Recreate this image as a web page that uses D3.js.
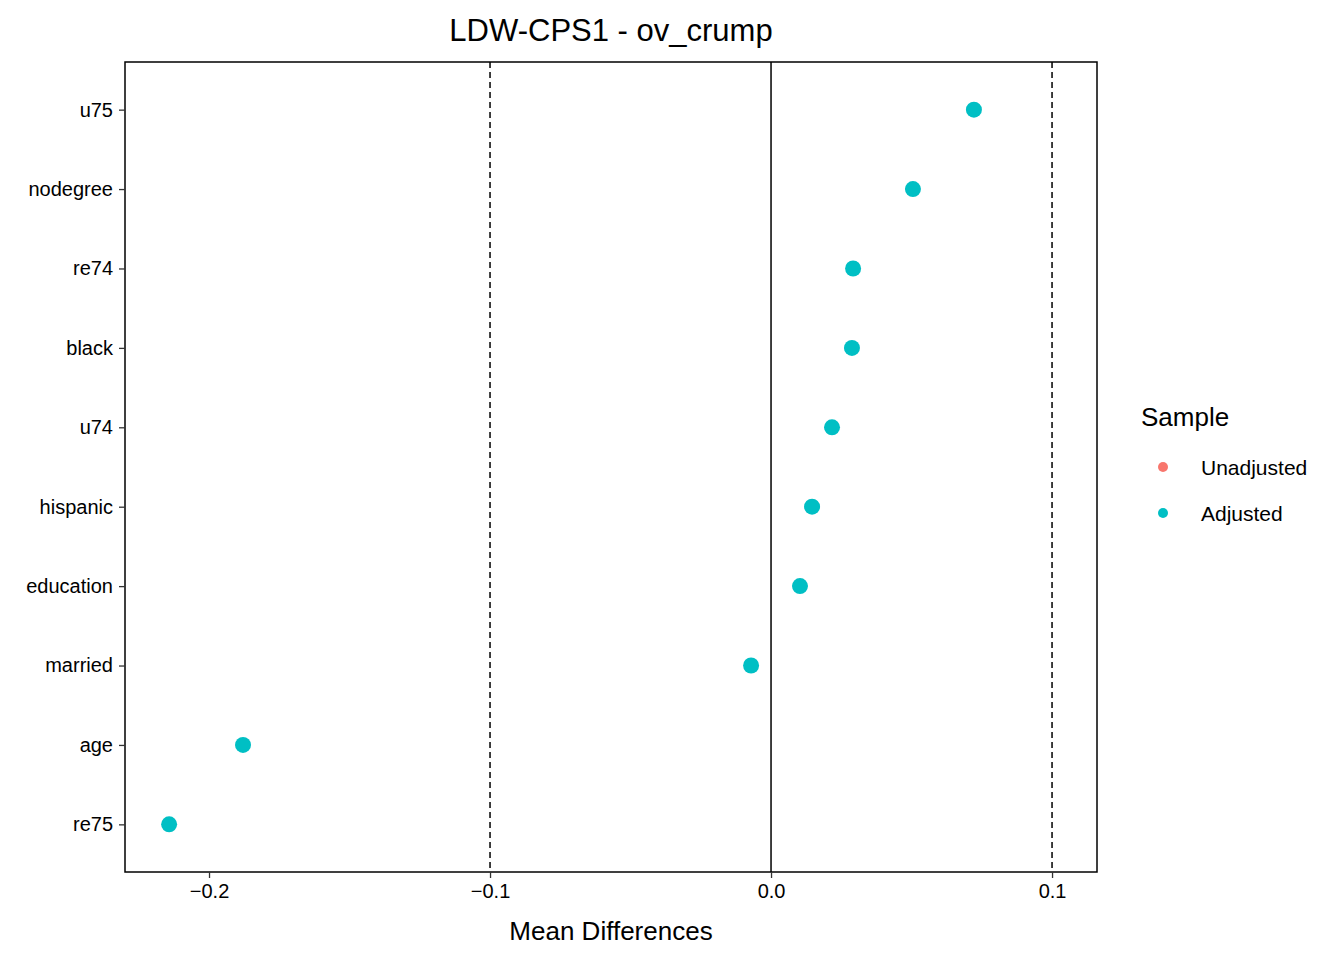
<!DOCTYPE html>
<html>
<head>
<meta charset="utf-8">
<script src="https://cdn.jsdelivr.net/npm/d3@7"></script>
<style>
  body { margin: 0; background: #fff; }
  text { font-family: "Liberation Sans", Arial, sans-serif; }
</style>
</head>
<body>
<svg id="chart" width="1344" height="960"></svg>
<script>
// data
const variables = ['u75', 'nodegree', 're74', 'black', 'u74', 'hispanic', 'education', 'married', 'age', 're75'];
const adjusted = [0.0722, 0.0505, 0.0292, 0.0288, 0.0217, 0.0146, 0.0103, -0.0071, -0.1879, -0.2142];
const xTicks = [-0.2, -0.1, 0.0, 0.1];
const thresholds = [-0.1, 0.1];
const sampleLabels = ['Unadjusted', 'Adjusted'];
const sampleColors = ['#F8766D', '#00BFC4'];

const svg = d3.select('#chart');
const pL = 125, pR = 1097, pT = 62, pB = 872;

const x = d3.scaleLinear().domain([-0.2299, 0.116]).range([pL, pR]);
const y = d3.scalePoint().domain(variables).range([pT, pB]).padding(0.6);

// threshold lines
svg.selectAll('line.thr').data(thresholds).join('line')
  .attr('x1', d => x(d)).attr('x2', d => x(d))
  .attr('y1', pT).attr('y2', pB)
  .attr('stroke', '#000').attr('stroke-width', 1.5).attr('stroke-dasharray', '6,4');

// zero line
svg.append('line')
  .attr('x1', x(0)).attr('x2', x(0)).attr('y1', pT).attr('y2', pB)
  .attr('stroke', '#000').attr('stroke-width', 1.5);

// points
svg.selectAll('circle.pt').data(adjusted).join('circle')
  .attr('cx', d => x(d)).attr('cy', (d, i) => y(variables[i]))
  .attr('r', 8).attr('fill', sampleColors[1]);

// panel border
svg.append('rect')
  .attr('x', pL).attr('y', pT).attr('width', pR - pL).attr('height', pB - pT)
  .attr('fill', 'none').attr('stroke', '#000').attr('stroke-width', 1.5);

// axes
const xAxis = svg.append('g').attr('transform', `translate(0,${pB})`)
  .call(d3.axisBottom(x).tickValues(xTicks).tickFormat(d3.format('.1f')).tickSize(6).tickPadding(6));
const yAxis = svg.append('g').attr('transform', `translate(${pL},0)`)
  .call(d3.axisLeft(y).tickSize(6).tickPadding(6));
[xAxis, yAxis].forEach(a => {
  a.select('.domain').remove();
  a.selectAll('line').attr('stroke', '#333').attr('stroke-width', 1.3);
  a.selectAll('text').attr('fill', '#000').style('font-size', '20px');
});

// titles
svg.append('text').attr('x', 611).attr('y', 41).attr('text-anchor', 'middle')
  .style('font-size', '31px').text('LDW-CPS1 - ov_crump');
svg.append('text').attr('x', 611).attr('y', 940).attr('text-anchor', 'middle')
  .style('font-size', '26px').text('Mean Differences');

// legend
svg.append('text').attr('x', 1141).attr('y', 426).style('font-size', '26px').text('Sample');
const leg = svg.selectAll('g.leg').data(sampleLabels).join('g')
  .attr('transform', (d, i) => `translate(1163,${467 + i * 46})`);
leg.append('circle').attr('r', 5).attr('fill', (d, i) => sampleColors[i]);
leg.append('text').attr('x', 38).attr('y', 8).style('font-size', '21px').text(d => d);
</script>
</body>
</html>
